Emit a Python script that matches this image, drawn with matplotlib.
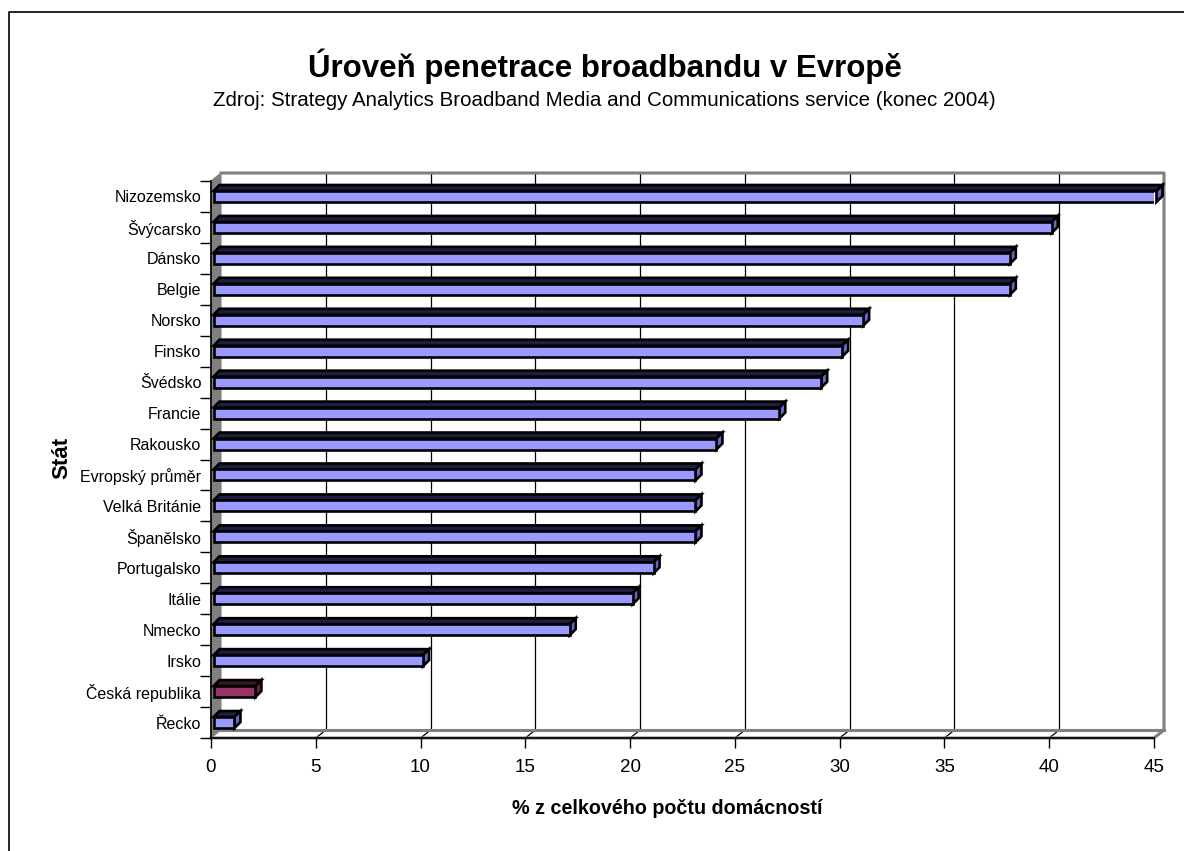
import matplotlib
matplotlib.use("Agg")
import matplotlib.pyplot as plt
from matplotlib.patches import Polygon
from matplotlib.lines import Line2D

plt.rcParams["font.family"] = ["Liberation Sans", "DejaVu Sans"]

# data, bottom to top
countries = ["Řecko", "Česká republika", "Irsko", "Nmecko", "Itálie",
             "Portugalsko", "Španělsko", "Velká Británie", "Evropský průměr",
             "Rakousko", "Francie", "Švédsko", "Finsko", "Norsko", "Belgie",
             "Dánsko", "Švýcarsko", "Nizozemsko"]
values = [1, 2, 10, 17, 20, 21, 23, 23, 23, 24, 27, 29, 30, 31, 38, 38, 40, 45]
highlight = "Česká republika"
xticks = [0, 5, 10, 15, 20, 25, 30, 35, 40, 45]

W, H = 1184, 851
fig = plt.figure(figsize=(W / 100, H / 100), dpi=100)

# front plane of the plot in pixels
x0, x1 = 211, 1154
y_top, y_bot = 181, 738
ax = fig.add_axes([x0 / W, (H - y_bot) / H, (x1 - x0) / W, (y_bot - y_top) / H])
ax.set_xlim(0, 45)
ax.set_ylim(-0.5, len(countries) - 0.5)
ax.patch.set_alpha(0)

px_x = 45 / (x1 - x0)                 # data units per pixel
px_y = len(countries) / (y_bot - y_top)

# depth of the wall
wdx, wdy = 10 * px_x, 8 * px_y
ytop = len(countries) - 0.5
ybot = -0.5
grey = "#808080"

# back wall
ax.add_patch(Polygon([(wdx, ybot + wdy), (45 + wdx, ybot + wdy),
                      (45 + wdx, ytop + wdy), (wdx, ytop + wdy)],
                     closed=True, facecolor="white", edgecolor="none",
                     clip_on=False, zorder=0))
# side wall
ax.add_patch(Polygon([(0, ybot), (0, ytop), (wdx, ytop + wdy), (wdx, ybot + wdy)],
                     closed=True, facecolor=grey, edgecolor=grey, lw=0.8,
                     clip_on=False, zorder=1))
# gridlines on back wall + floor diagonals
for t in xticks[1:-1]:
    ax.add_line(Line2D([t + wdx, t + wdx], [ybot + wdy, ytop + wdy],
                       color="black", lw=0.9, clip_on=False, zorder=1))
    ax.add_line(Line2D([t, t + wdx], [ybot, ybot + wdy],
                       color="black", lw=0.9, clip_on=False, zorder=1))
# wall frame
ax.add_line(Line2D([wdx, 45 + wdx, 45 + wdx, 45, 0],
                   [ytop + wdy, ytop + wdy, ybot + wdy, ybot, ybot],
                   color=grey, lw=2.2, clip_on=False, zorder=1))
ax.add_line(Line2D([wdx, 45 + wdx], [ybot + wdy, ybot + wdy],
                   color=grey, lw=2.2, clip_on=False, zorder=1))

# bars
ypos = list(range(len(countries)))
bh = 11 * px_y
bdx, bdy = 6 * px_x, 6 * px_y
shift = 2.5 * px_x
face = ["#993366" if c == highlight else "#9999FF" for c in countries]
top_c = ["#3a1428" if c == highlight else "#1e1e40" for c in countries]
side_c = ["#662244" if c == highlight else "#6666CC" for c in countries]

ax.barh(ypos, values, height=bh, left=shift, color=face,
        edgecolor="black", linewidth=1.9, zorder=4)
for y, v, tc, sc in zip(ypos, values, top_c, side_c):
    b, t = y - bh / 2, y + bh / 2
    xs, xe = shift, shift + v
    ax.add_patch(Polygon([(xs, t), (xe, t), (xe + bdx, t + bdy), (xs + bdx, t + bdy)],
                         closed=True, facecolor=tc, edgecolor="black", lw=1.9,
                         clip_on=False, zorder=3))
    ax.add_patch(Polygon([(xe, b), (xe, t), (xe + bdx, t + bdy), (xe + bdx, b + bdy)],
                         closed=True, facecolor=sc, edgecolor="black", lw=1.9,
                         clip_on=False, zorder=3))

# axes
for s in ["top", "right"]:
    ax.spines[s].set_visible(False)
for s in ["left", "bottom"]:
    ax.spines[s].set_color("black")
    ax.spines[s].set_linewidth(1.2)
    ax.spines[s].set_zorder(5)

ax.set_xticks(xticks)
ax.tick_params(axis="x", direction="out", length=7, width=1.0, labelsize=13.5, pad=8)
ax.set_yticks(ypos)
ax.set_yticklabels(countries)
ax.set_yticks([k - 0.5 for k in range(len(countries) + 1)], minor=True)
ax.tick_params(axis="y", which="major", length=0, labelsize=11.5, pad=7)
ax.tick_params(axis="y", which="minor", direction="out", length=8, width=1.0)

# texts
fig.text(605 / W, 1 - 66 / H, "Úroveň penetrace broadbandu v Evropě",
         ha="center", va="center", fontsize=22.5, fontweight="bold")
fig.text(604 / W, 1 - 100 / H,
         "Zdroj: Strategy Analytics Broadband Media and Communications service (konec 2004)",
         ha="center", va="center", fontsize=14.8)
fig.text(667 / W, 1 - 808 / H, "% z celkového počtu domácností",
         ha="center", va="center", fontsize=14.2, fontweight="bold")
fig.text(62 / W, 1 - 458 / H, "Stát", rotation=90,
         ha="center", va="center", fontsize=16, fontweight="bold")

# outer frame
fig.add_artist(Line2D([9 / W, 9 / W, 1], [0, 1 - 12 / H, 1 - 12 / H],
                      transform=fig.transFigure, color="black", lw=1.2))

fig.savefig("out.png", dpi=100)
